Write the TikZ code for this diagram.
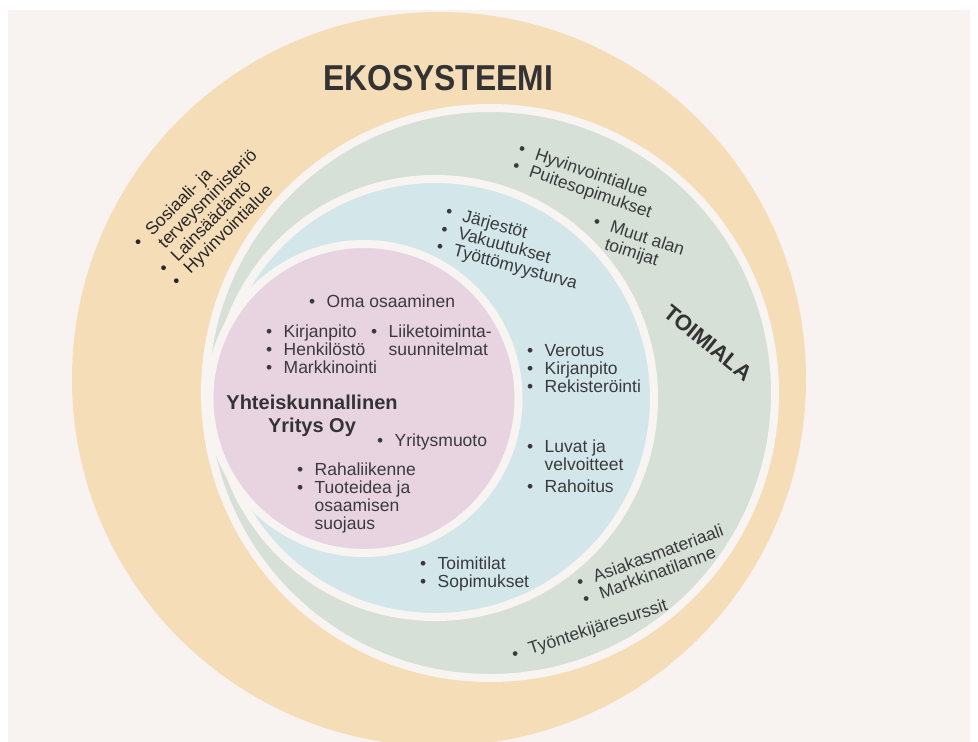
\documentclass[tikz,border=0pt]{standalone}
\usepackage{fontspec}
\setmainfont{Liberation Sans}
\definecolor{bgc}{HTML}{F8F3F0}
\definecolor{ringc}{HTML}{F8F4F1}
\definecolor{orc}{HTML}{F5DDB8}
\definecolor{grc}{HTML}{D6E0D7}
\definecolor{blc}{HTML}{D3E7EB}
\definecolor{pkc}{HTML}{E8D3E1}
\definecolor{txt}{HTML}{3A3A3C}
\definecolor{txtd}{HTML}{262626}
\definecolor{titc}{HTML}{333333}
\newcommand{\bul}{\makebox[1em][l]{\textbullet}}
\newcommand{\blk}[1]{\begin{tabular}[t]{@{}l@{}l@{}}#1\end{tabular}}
\tikzset{
  tx/.style={anchor=base west, inner sep=0, text=txt, font=\fontsize{17.5}{17.8}\selectfont},
  ring/.style={draw=ringc, line width=8},
}
\begin{document}
\begin{tikzpicture}[x=1pt,y=-1pt]
\useasboundingbox (0,0) rectangle (978,742);
\clip (0,0) rectangle (978,742);
\fill[white] (0,0) rectangle (978,742);
\fill[bgc] (8,10) rectangle (970,742);
% circles
\fill[orc] (439,379) circle[radius=367];
\filldraw[fill=grc, ring] (490,393) circle[radius=285];
\filldraw[fill=blc, ring] (435,398) circle[radius=219];
\filldraw[fill=pkc, ring] (364,398.5) circle[radius=154.5];
% title
\node[anchor=base, inner sep=0, text=titc, font=\bfseries\fontsize{36}{36}\selectfont, xscale=0.884] (eko) at (438,90) {EKOSYSTEEMI};
% orange ring text
\node[tx, text=txtd, rotate=45] (sos) at (139.9,249.1) {\blk{\bul&Sosiaali- ja\\ &terveysministeriö\\ \bul&Lainsäädäntö\\ \bul&Hyvinvointialue}};
% green ring text
\node[tx, rotate=-19] (hyv) at (517.3,153.4) {\blk{\bul&Hyvinvointialue\\ \bul&Puitesopimukset}};
\node[tx, rotate=-18] (muu) at (592.3,226.5) {\blk{\bul&Muut alan\\ &toimijat}};
\node[inner sep=0, text=titc, font=\bfseries\fontsize{22}{22}\selectfont, rotate=-39] (toimiala) at (708,343) {TOIMIALA};
\node[tx, rotate=20] (asi) at (579.1,588.4) {\blk{\bul&Asiakasmateriaali\\ \bul&Markkinatilanne}};
\node[tx, rotate=18] (tyo) at (513.9,660.3) {\blk{\bul&Työntekijäresurssit}};
% blue ring text
\node[tx, rotate=-15] (jar) at (444.6,216.7) {\blk{\bul&Järjestöt\\ \bul&Vakuutukset\\ \bul&Työttömyysturva}};
\node[tx] (ver) at (527,356) {\blk{\bul&Verotus\\ \bul&Kirjanpito\\ \bul&Rekisteröinti}};
\node[tx] (luv) at (527,452) {\blk{\bul&Luvat ja\\ &velvoitteet}};
\node[tx] (rahoi) at (527,492) {\blk{\bul&Rahoitus}};
\node[tx] (toi) at (420,569) {\blk{\bul&Toimitilat\\ \bul&Sopimukset}};
% pink circle text
\node[tx] (oma) at (309,307) {\blk{\bul&Oma osaaminen}};
\node[tx] (kir) at (266,337) {\blk{\bul&Kirjanpito\\ \bul&Henkilöstö\\ \bul&Markkinointi}};
\node[tx] (lii) at (371,337) {\blk{\bul&Liiketoiminta-\\ &suunnitelmat}};
\node[anchor=base, inner sep=0, text=titc, font=\bfseries\fontsize{20}{23}\selectfont] (yy) at (312,409) {\begin{tabular}[t]{@{}c@{}}Yhteiskunnallinen\\Yritys Oy\end{tabular}};
\node[tx] (yri) at (377,446) {\blk{\bul&Yritysmuoto}};
\node[tx] (rah) at (297,475) {\blk{\bul&Rahaliikenne\\ \bul&Tuoteidea ja\\ &osaamisen\\ &suojaus}};
\end{tikzpicture}
\end{document}
